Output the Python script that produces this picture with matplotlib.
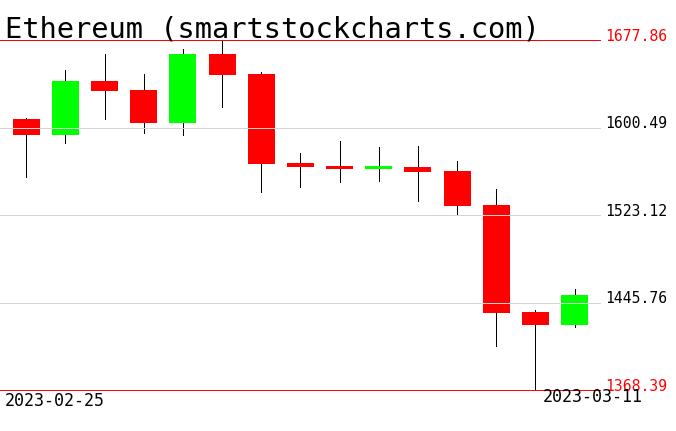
import matplotlib.pyplot as plt
from matplotlib.patches import Rectangle

# daily candles, 2023-02-25 .. 2023-03-11
dates = ["2023-02-25", "2023-03-11"]
opens = [1608.0, 1593.9, 1641.6, 1633.6, 1604.7, 1665.5, 1647.8, 1569.1,
         1566.4, 1564.4, 1565.6, 1562.0, 1531.9, 1437.4, 1425.9]
highs = [1608.9, 1651.3, 1665.5, 1647.8, 1669.9, 1677.86, 1649.6, 1577.9,
         1588.6, 1583.2, 1584.1, 1570.9, 1546.1, 1439.1, 1458.0]
lows = [1557.0, 1587.1, 1607.8, 1595.9, 1594.1, 1618.9, 1543.7, 1548.1,
        1552.6, 1553.5, 1535.8, 1523.1, 1407.6, 1368.39, 1424.4]
closes = [1593.9, 1641.6, 1633.0, 1604.7, 1665.5, 1647.2, 1568.5, 1565.8,
          1564.1, 1566.4, 1561.4, 1531.4, 1436.7, 1425.9, 1452.4]
levels = [1677.86, 1600.49, 1523.12, 1445.76, 1368.39]

W, H = 676, 431
MONO = "DejaVu Sans Mono"


def px(x: float, y: float) -> tuple[float, float]:
    # pixel (from top-left) -> figure fraction
    return x / W, 1 - y / H


# +0.004 so the rounding does not drop a pixel row
fig = plt.figure(figsize=(W / 100 + 0.004, H / 100 + 0.004), dpi=100)
# axes spans x 0..600 px, y 40..390 px
ax = fig.add_axes([0, (H - 390.5) / H, 600 / W, 350 / H])
ax.set_xlim(-0.672, 14.66)
ax.set_ylim(levels[-1], levels[0])
ax.axis("off")

body_w = 0.69
for i, (o, h, l, c) in enumerate(zip(opens, highs, lows, closes)):
    ax.vlines(i, l, h, color="black", lw=0.6, zorder=1, antialiased=False)
    color = "#00ff00" if c >= o else "#ff0000"
    ax.add_patch(Rectangle((i - body_w / 2, min(o, c)), body_w, max(abs(c - o), 1.8),
                           facecolor=color, edgecolor="none", zorder=2, antialiased=False))

for k, lv in enumerate(levels):
    edge = k in (0, len(levels) - 1)
    ax.axhline(lv, color="#ff0000" if edge else "#d3d3d3", lw=0.6, zorder=3,
               antialiased=False, clip_on=False)
    ax.text(1.008, lv, f"{lv:.2f}", transform=ax.get_yaxis_transform(),
            color="#ff0000" if edge else "black", fontsize=10.6, family=MONO,
            va="baseline", ha="left", clip_on=False)

fig.text(*px(5, 37.5), "Ethereum (smartstockcharts.com)", fontsize=20.7,
         family=MONO, va="baseline", ha="left")
fig.text(*px(5, 406), dates[0], fontsize=12, family=MONO, va="baseline", ha="left")
fig.text(*px(542, 402), dates[1], fontsize=12, family=MONO, va="baseline", ha="left")

fig.savefig("out.png", dpi=100)
